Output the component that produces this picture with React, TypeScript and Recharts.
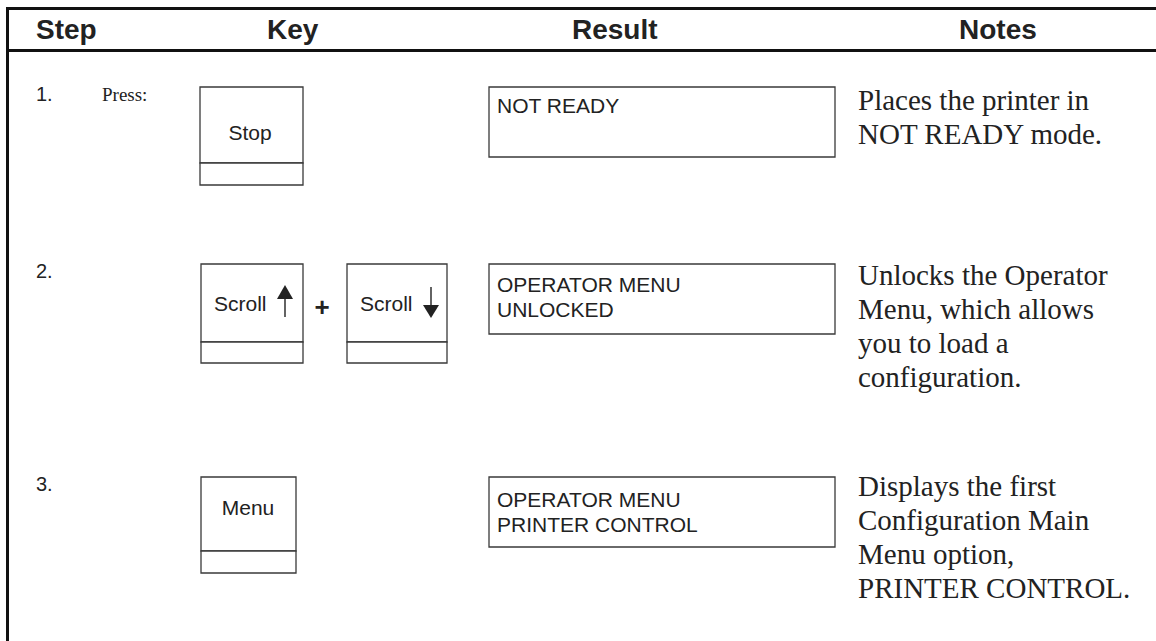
import React from 'react';
import {
  ComposedChart,
  XAxis,
  YAxis,
  Scatter,
  ReferenceArea,
  ReferenceLine,
} from 'recharts';

// Table content
const headers = ['Step', 'Key', 'Result', 'Notes'];
const stepNumbers = ['1.', '2.', '3.'];
const pressLabel = 'Press:';
const keyLabels = [['Stop'], ['Scroll', 'Scroll'], ['Menu']];
const keyArrows = [[], ['up', 'down'], []];
const resultLines = [
  ['NOT READY'],
  ['OPERATOR MENU', 'UNLOCKED'],
  ['OPERATOR MENU', 'PRINTER CONTROL'],
];
const noteLines = [
  ['Places the printer in', 'NOT READY mode.'],
  ['Unlocks the Operator', 'Menu, which allows', 'you to load a', 'configuration.'],
  ['Displays the first', 'Configuration Main', 'Menu option,', 'PRINTER CONTROL.'],
];

// Layout (page pixels, y grows downward)
const W = 1156;
const H = 641;
const SANS = '"Liberation Sans", Arial, sans-serif';
const SERIF = '"Liberation Serif", "Times New Roman", serif';
const INK = '#222';
const BOX = '#3a3a3a';

const headerX = [36, 267, 572, 959];
const headerBaseline = 39;
const rowTop = [87, 264, 477];

// key buttons per row: x1, x2, bottom, divider
const keyBoxes = [
  [{ x1: 200, x2: 303, y2: 185, div: 163 }],
  [
    { x1: 201, x2: 303, y2: 363, div: 342 },
    { x1: 347, x2: 447, y2: 363, div: 342 },
  ],
  [{ x1: 201, x2: 296, y2: 573, div: 551 }],
];
const keyText = [
  [{ x: 250, y: 140, anchor: 'middle' }],
  [
    { x: 214, y: 311, anchor: 'start' },
    { x: 360, y: 311, anchor: 'start' },
  ],
  [{ x: 248, y: 515, anchor: 'middle' }],
];
const arrowPos = [[], [{ x: 285, y: 301 }, { x: 431, y: 302 }], []];
const resultBox = { x1: 489, x2: 835, h: 70 };
const resultFirst = [113, 292, 507];
const resultStep = 25;
const noteX = 858;
const noteFirst = [110, 285, 496];
const noteStep = 34;

type TextItem = {
  x: number;
  y: number;
  text: string;
  font: string;
  size: number;
  weight?: number;
  anchor?: string;
};

const texts: TextItem[] = [];
headers.forEach((h, i) =>
  texts.push({ x: headerX[i], y: headerBaseline, text: h, font: SANS, size: 28, weight: 700 })
);
stepNumbers.forEach((s, i) =>
  texts.push({ x: 36, y: rowTop[i] + 14, text: s, font: SANS, size: 20 })
);
texts.push({ x: 102, y: rowTop[0] + 14, text: pressLabel, font: SERIF, size: 19 });
keyLabels.forEach((row, r) =>
  row.forEach((k, j) =>
    texts.push({
      x: keyText[r][j].x,
      y: keyText[r][j].y,
      text: k,
      font: SANS,
      size: 21,
      anchor: keyText[r][j].anchor,
    })
  )
);
texts.push({ x: 322, y: 316, text: '+', font: SANS, size: 26, weight: 700, anchor: 'middle' });
resultLines.forEach((row, r) =>
  row.forEach((t, j) =>
    texts.push({ x: resultBox.x1 + 8, y: resultFirst[r] + j * resultStep, text: t, font: SANS, size: 21 })
  )
);
noteLines.forEach((row, r) =>
  row.forEach((t, j) =>
    texts.push({ x: noteX, y: noteFirst[r] + j * noteStep, text: t, font: SERIF, size: 29 })
  )
);

const arrows = keyArrows.flatMap((row, r) =>
  row.map((dir, j) => ({ x: arrowPos[r][j].x, y: arrowPos[r][j].y, dir }))
);

const TextShape = (props: any) => {
  const p = props.payload as TextItem;
  return (
    <text
      x={props.cx}
      y={props.cy}
      fontFamily={p.font}
      fontSize={p.size}
      fontWeight={p.weight ?? 400}
      textAnchor={p.anchor ?? 'start'}
      fill={INK}
    >
      {p.text}
    </text>
  );
};

const ArrowShape = (props: any) => {
  const { cx, cy } = props;
  if (props.payload.dir === 'up') {
    return (
      <g>
        <line x1={cx} y1={cy - 3} x2={cx} y2={cy + 16} stroke={INK} strokeWidth={1.4} />
        <path d={`M${cx},${cy - 16} L${cx - 8},${cy - 2} L${cx + 8},${cy - 2} Z`} fill={INK} />
      </g>
    );
  }
  return (
    <g>
      <line x1={cx} y1={cy - 15} x2={cx} y2={cy + 4} stroke={INK} strokeWidth={1.4} />
      <path d={`M${cx - 8},${cy + 3} L${cx + 8},${cy + 3} L${cx},${cy + 16} Z`} fill={INK} />
    </g>
  );
};

const App: React.FC = () => {
  return (
    <div style={{ position: 'absolute', left: 0, top: 0, width: W, height: H, background: '#fff' }}>
      <ComposedChart width={W} height={H} margin={{ top: 0, right: 0, bottom: 0, left: 0 }}>
        <XAxis type="number" dataKey="x" domain={[0, W]} allowDataOverflow hide />
        <YAxis type="number" dataKey="y" domain={[0, H]} allowDataOverflow reversed hide />

        {/* key buttons */}
        {keyBoxes.flatMap((row, r) =>
          row.map((b, j) => (
            <ReferenceArea
              key={`k${r}${j}`}
              x1={b.x1}
              x2={b.x2}
              y1={rowTop[r]}
              y2={b.div}
              fill="#fff"
              fillOpacity={1}
              stroke={BOX}
              strokeWidth={1.3}
              ifOverflow="visible"
            />
          ))
        )}
        {keyBoxes.flatMap((row, r) =>
          row.map((b, j) => (
            <ReferenceArea
              key={`kb${r}${j}`}
              x1={b.x1}
              x2={b.x2}
              y1={b.div}
              y2={b.y2}
              fill="#fff"
              fillOpacity={1}
              stroke={BOX}
              strokeWidth={1.3}
              ifOverflow="visible"
            />
          ))
        )}

        {/* result displays */}
        {rowTop.map((t, r) => (
          <ReferenceArea
            key={`r${r}`}
            x1={resultBox.x1}
            x2={resultBox.x2}
            y1={t}
            y2={t + resultBox.h}
            fill="#fff"
            fillOpacity={1}
            stroke={BOX}
            strokeWidth={1.3}
            ifOverflow="visible"
          />
        ))}

        {/* frame */}
        <ReferenceLine
          segment={[{ x: 6, y: 8.5 }, { x: W, y: 8.5 }]}
          stroke="#111"
          strokeWidth={3}
          ifOverflow="visible"
        />
        <ReferenceLine
          segment={[{ x: 6, y: 50.5 }, { x: W, y: 50.5 }]}
          stroke="#111"
          strokeWidth={3}
          ifOverflow="visible"
        />
        <ReferenceLine
          segment={[{ x: 7.5, y: 7 }, { x: 7.5, y: H }]}
          stroke="#111"
          strokeWidth={3}
          ifOverflow="visible"
        />

        <Scatter data={arrows} shape={ArrowShape} isAnimationActive={false} />
        <Scatter data={texts} shape={TextShape} isAnimationActive={false} />
      </ComposedChart>
    </div>
  );
};

export default App;
